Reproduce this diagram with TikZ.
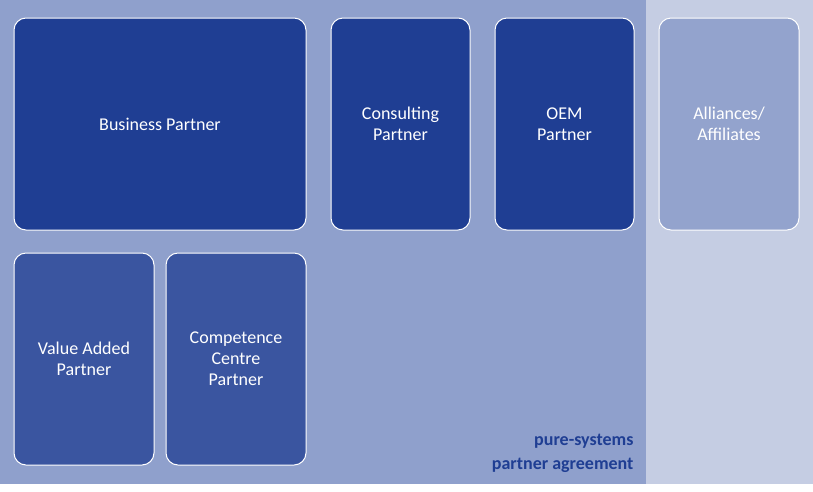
\documentclass[tikz,border=0pt]{standalone}
\usepackage{fontspec}
\setmainfont{Carlito}
\definecolor{bgL}{HTML}{8FA0CC}
\definecolor{bgR}{HTML}{C5CDE3}
\definecolor{dark}{HTML}{1F3E93}
\definecolor{mid}{HTML}{3A55A0}
\definecolor{light}{HTML}{93A3CD}
\begin{document}
\begin{tikzpicture}[x=1pt,y=-1pt,
  box/.style={draw=white,line width=1pt,rounded corners=12pt,text=white,font=\fontsize{18}{21}\selectfont,align=center}]
\useasboundingbox (0,0) rectangle (813,491);
\fill[bgL] (0,0) rectangle (646,484);
\fill[bgR] (646,0) rectangle (813,484);
\node[box,fill=dark,minimum width=292pt,minimum height=212pt] (bp) at (160,124) {Business Partner};
\node[box,fill=dark,minimum width=139pt,minimum height=212pt] (cp) at (400.5,124) {Consulting\\Partner};
\node[box,fill=dark,minimum width=139pt,minimum height=212pt] (oem) at (564.5,124) {OEM\\Partner};
\node[box,fill=light,minimum width=140pt,minimum height=212pt] (al) at (729,124) {Alliances/\\Affiliates};
\node[box,fill=mid,minimum width=140pt,minimum height=212pt] (va) at (84,359) {Value Added\\Partner};
\node[box,fill=mid,minimum width=140pt,minimum height=212pt] (cc) at (236,359) {Competence\\Centre\\Partner};
\node[anchor=east,text=dark,font=\fontsize{18}{24}\selectfont\bfseries,align=right] (lbl) at (637,453) {pure-systems\\partner agreement};
\end{tikzpicture}
\end{document}
